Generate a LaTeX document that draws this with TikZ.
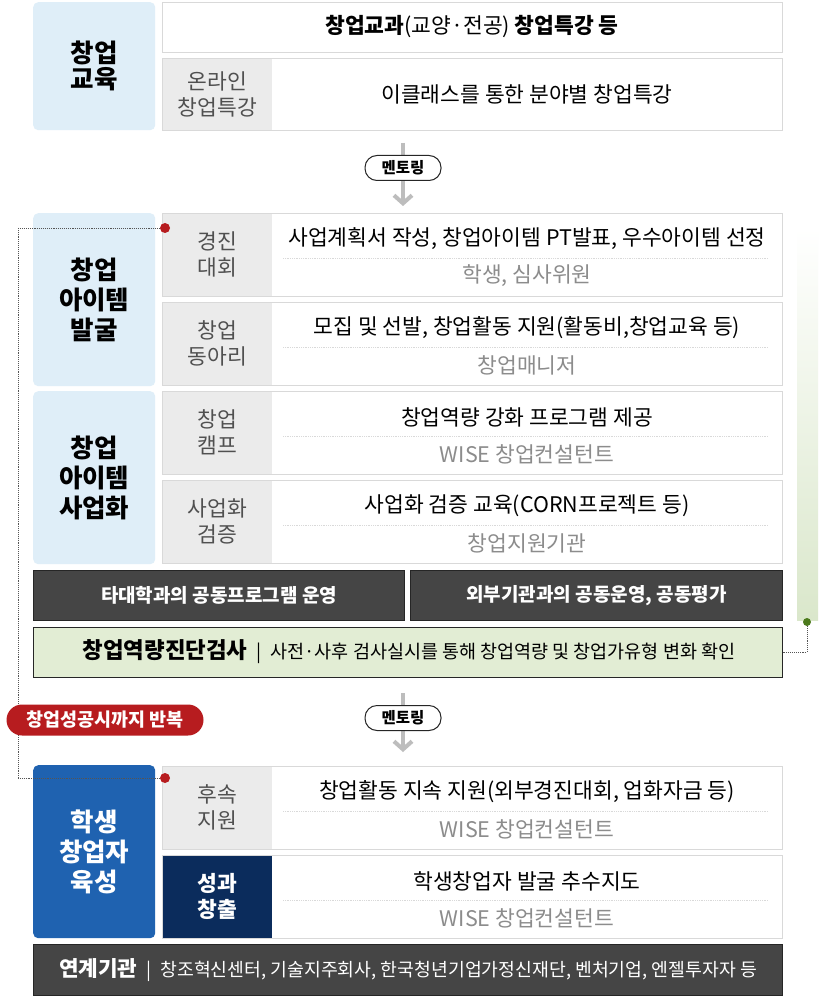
\documentclass[tikz,border=0pt]{standalone}
\usepackage{fontspec}
\setmainfont{Noto Sans CJK KR}
\usetikzlibrary{arrows.meta}
\definecolor{lblue}{HTML}{DFEEF8}
\definecolor{bluebox}{HTML}{1F62B0}
\definecolor{navy}{HTML}{0B2C5C}
\definecolor{lgray}{HTML}{EBEBEB}
\definecolor{bord}{HTML}{D9D9D9}
\definecolor{darkbar}{HTML}{454545}
\definecolor{lgreen}{HTML}{E2EDD4}
\definecolor{gbar}{HTML}{DAE7CB}
\definecolor{redc}{HTML}{B71C1F}
\definecolor{dgreen}{HTML}{4C7A1C}
\definecolor{subg}{HTML}{8C8C8C}
\definecolor{labtxt}{HTML}{505050}
\definecolor{arrowg}{HTML}{BDBDBD}
\definecolor{dotg}{HTML}{555555}
\newcommand{\wrow}[6]{%
  \node[rowbox, minimum height=83pt] (#1) at (162,#2) {};
  \node[labcell,#6] (#1-l) at (162.6,#2+0.6) {#3};
  \node[maintxt] (#1-m) at (527,#2+26) {#4};
  \draw[sepline] (283,#2+45) -- (768,#2+45);
  \node[subtxt] (#1-s) at (527,#2+63) {#5};
}
\tikzset{
  rowbox/.style={draw=bord, line width=1.2pt, fill=white, inner sep=0pt, anchor=north west, minimum width=620pt},
  labcell/.style={fill=lgray, inner sep=0pt, anchor=north west, minimum width=109.4pt, minimum height=81.8pt, align=center, text=labtxt, font=\fontsize{21.5}{26}\selectfont},
  lefthead/.style={fill=lblue, rounded corners=5pt, anchor=north west, inner sep=0pt, minimum width=122pt, align=center, font=\fontsize{25.5}{30}\selectfont\bfseries},
  maintxt/.style={inner sep=0pt, font=\fontsize{21.5}{24}\selectfont, text=black},
  subtxt/.style={inner sep=0pt, font=\fontsize{21.5}{24}\selectfont, text=subg},
  sepline/.style={draw=bord, densely dotted, line width=0.8pt},
  darkbox/.style={fill=darkbar, draw=black!85, line width=1pt, anchor=north west, inner sep=0pt, text=white, font=\fontsize{19}{22}\selectfont\bfseries},
  mentor/.style={draw=black!85, line width=1pt, fill=white, rounded corners=12pt, minimum width=76pt, minimum height=25pt, inner sep=0pt, font=\fontsize{15.5}{16}\selectfont\bfseries},
  flowarrow/.style={draw=arrowg, line width=4pt, -{Straight Barb[length=8pt,width=18pt]}},
  loopline/.style={draw=dotg, densely dotted, line width=0.9pt},
  reddot/.style={circle, fill=redc, inner sep=0pt, minimum size=10pt},
  greendot/.style={circle, fill=dgreen, inner sep=0pt, minimum size=8pt},
}
\begin{document}
\begin{tikzpicture}[x=1pt,y=-1pt]
\useasboundingbox[fill=white] (0,0) rectangle (820,1000);

% ---- green side bar
\shade[top color=white, bottom color=gbar] (797,228) rectangle (818,620);

% ---- coordinates for connectors
\coordinate (lp1) at (18,228);
\coordinate (lp2) at (18,778);
\coordinate (gd1) at (807,652);
\coordinate (gd2) at (783,652);

% ---- section 1 : 창업교육
\node[lefthead, font=\fontsize{25.5}{26}\selectfont\bfseries, minimum height=128pt] (edu) at (33,2) {창업\\교육};
\node[rowbox, minimum height=50pt] (r1) at (162,2) {};
\node[maintxt] (r1-m) at (472,27) {\textbf{창업교과}(교양·전공) \textbf{창업특강 등}};
\node[rowbox, minimum height=72pt] (r2) at (162,58) {};
\node[labcell, minimum height=70.8pt] (r2-l) at (162.6,58.6) {온라인\\창업특강};
\node[maintxt] (r2-m) at (527,94) {이클래스를 통한 분야별 창업특강};

% ---- mentoring 1
\coordinate (a1s) at (403,143);
\coordinate (a1e) at (403,206);
\draw[flowarrow] (a1s) -- (a1e);
\node[mentor] (m1) at (403,168) {멘토링};

% ---- section 2 & 3
\draw[loopline] (lp1) -- (lp2);
\node[lefthead, minimum height=173pt] (idea) at (33,213) {창업\\아이템\\발굴};
\node[lefthead, minimum height=173pt] (biz) at (33,391) {창업\\아이템\\사업화};
\wrow{c1}{213}{경진\\대회}{사업계획서 작성, 창업아이템 PT발표, 우수아이템 선정}{학생, 심사위원}{}
\wrow{c2}{302}{창업\\동아리}{모집 및 선발, 창업활동 지원(활동비,창업교육 등)}{창업매니저}{}
\wrow{c3}{391}{창업\\캠프}{창업역량 강화 프로그램 제공}{WISE 창업컨설턴트}{}
\wrow{c4}{480}{사업화\\검증}{사업화 검증 교육(CORN프로젝트 등)}{창업지원기관}{}

% ---- dark bars
\node[darkbox, minimum width=371pt, minimum height=50pt] (jb1) at (33,570) {타대학과의 공동프로그램 운영};
\node[darkbox, minimum width=372pt, minimum height=50pt] (jb2) at (410,570) {외부기관과의 공동운영, 공동평가};

% ---- diagnosis
\node[fill=lgreen, draw=black!85, line width=1pt, anchor=north west, inner sep=0pt, minimum width=749pt, minimum height=50pt] (diag) at (33,627) {};
\node[inner sep=0pt, font=\fontsize{18.5}{20}\selectfont] (diag-t) at (409,652) {{\fontsize{22.4}{24}\selectfont\bfseries 창업역량진단검사}\hspace{9pt}|\hspace{9pt}사전·사후 검사실시를 통해 창업역량 및 창업가유형 변화 확인};

% green dot connector
\node[greendot] (gdot) at (807,622) {};
\draw[loopline] (gdot) -- (gd1) -- (gd2);

% ---- mentoring 2
\coordinate (a2s) at (403,693);
\coordinate (a2e) at (403,752);
\draw[flowarrow] (a2s) -- (a2e);
\node[mentor] (m2) at (403,718) {멘토링};

% ---- repeat pill
\node[fill=redc, rounded corners=15.5pt, minimum width=197pt, minimum height=31pt, inner sep=0pt, text=white, font=\fontsize{18.5}{19}\selectfont\bfseries] (rep) at (105,720) {창업성공시까지 반복};

% ---- section 4
\node[lefthead, fill=bluebox, text=white, minimum height=173pt] (grow) at (33,765) {학생\\창업자\\육성};
\wrow{c5}{766}{후속\\지원}{창업활동 지속 지원(외부경진대회, 업화자금 등)}{WISE 창업컨설턴트}{}
\wrow{c6}{855}{성과\\창출}{학생창업자 발굴 추수지도}{WISE 창업컨설턴트}{fill=navy, text=white, font=\fontsize{21.5}{26}\selectfont\bfseries}

% ---- bottom bar
\node[darkbox, minimum width=749pt, minimum height=51pt] (link) at (33,944) {};
\node[inner sep=0pt, text=white, font=\fontsize{18.3}{20}\selectfont] (link-t) at (408,970) {{\fontsize{21.3}{23}\selectfont\bfseries 연계기관}\hspace{9pt}|\hspace{9pt}창조혁신센터, 기술지주회사, 한국청년기업가정신재단, 벤처기업, 엔젤투자자 등};

% ---- red dots and loop legs
\node[reddot] (rd1) at (165,228) {};
\node[reddot] (rd2) at (165,778) {};
\draw[loopline] (rd1) -- (lp1);
\draw[loopline] (lp2) -- (rd2);
\end{tikzpicture}
\end{document}
